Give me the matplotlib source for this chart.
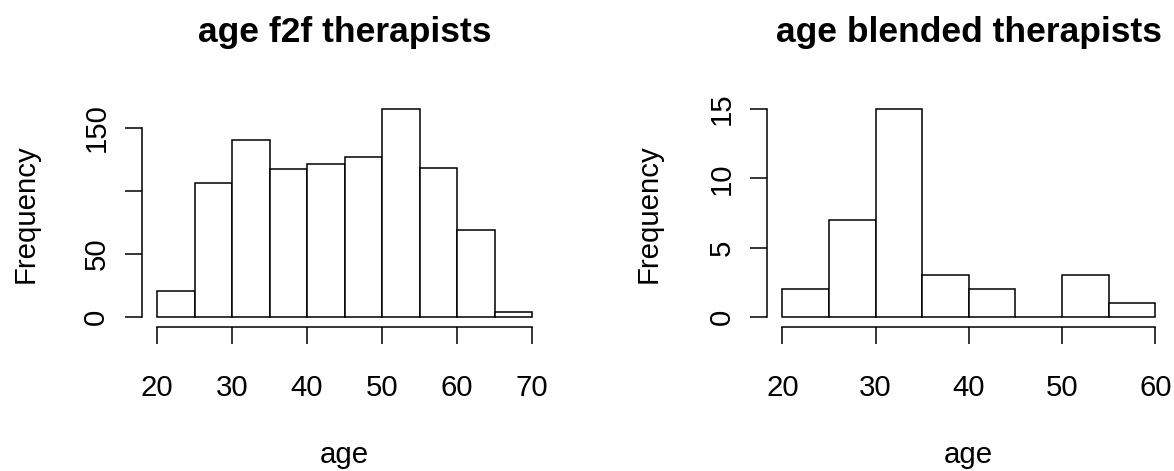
import numpy as np
import matplotlib
matplotlib.use('Agg')
import matplotlib.pyplot as plt

plt.rcParams['font.family'] = ['Liberation Sans', 'DejaVu Sans']

# counts per 5-year bin
f2f_bins = [20, 25, 30, 35, 40, 45, 50, 55, 60, 65, 70]
f2f_counts = [21, 106, 140, 117, 121, 127, 165, 118, 69, 4]
f2f_yticks = [0, 50, 100, 150]
f2f_ylabels = ['0', '50', '', '150']

blend_bins = [20, 25, 30, 35, 40, 45, 50, 55, 60]
blend_counts = [2, 7, 15, 3, 2, 0, 3, 1]
blend_yticks = [0, 5, 10, 15]
blend_ylabels = ['0', '5', '10', '15']

W, H = 1174, 471
fig = plt.figure(figsize=(W / 100, H / 100), dpi=100)

base = 21.2   # font size in pt
lw = 1.1


def r_hist(left_px, right_px, ylab_px, bins, counts, yticks, ylabels, title):
    top_px, bottom_px = 100.6, 326.7
    ax = fig.add_axes([left_px / W, 1 - bottom_px / H,
                       (right_px - left_px) / W, (bottom_px - top_px) / H])
    bins = np.array(bins)
    ax.bar(bins[:-1], counts, width=np.diff(bins), align='edge',
           facecolor='white', edgecolor='black', linewidth=lw)
    span = bins[-1] - bins[0]
    ax.set_xlim(bins[0] - 0.04 * span, bins[-1] + 0.04 * span)
    ymax = max(counts)
    ax.set_ylim(-0.046 * ymax, 1.04 * ymax)

    for s in ['top', 'right']:
        ax.spines[s].set_visible(False)
    ax.spines['left'].set_bounds(yticks[0], yticks[-1])
    ax.spines['left'].set_linewidth(lw)
    ax.spines['bottom'].set_bounds(bins[0], bins[-1])
    ax.spines['bottom'].set_linewidth(lw)

    xt = np.arange(bins[0], bins[-1] + 1, 10)
    ax.set_xticks(xt)
    ax.set_xticklabels([str(v) for v in xt])
    ax.set_yticks(yticks)
    ax.set_yticklabels(ylabels)
    ax.tick_params(axis='x', length=12, width=lw, pad=37.9, labelsize=base)
    ax.tick_params(axis='y', length=12, width=lw, pad=15.1, labelsize=base)
    for lab in ax.get_xticklabels():
        lab.set_va('baseline')
    for lab in ax.get_yticklabels():
        lab.set_rotation(90)
        lab.set_rotation_mode('anchor')
        lab.set_ha('center')
        lab.set_va('baseline')

    h = bottom_px - top_px
    wd = right_px - left_px
    ax.set_title(title, fontsize=base * 1.2, fontweight='bold',
                 y=1 + (top_px - 42) / h, pad=0, va='baseline')
    ax.set_xlabel('age', fontsize=base, va='baseline')
    ax.xaxis.set_label_coords(0.5, -(463 - bottom_px) / h)
    ax.set_ylabel('Frequency', fontsize=base, va='baseline')
    ax.yaxis.set_label_coords(-(left_px - ylab_px) / wd, 0.5)
    return ax


r_hist(142, 547, 34, f2f_bins, f2f_counts, f2f_yticks, f2f_ylabels,
       'age f2f therapists')
r_hist(767.4, 1170.2, 657, blend_bins, blend_counts, blend_yticks,
       blend_ylabels, 'age blended therapists')

fig.savefig('out.png', dpi=100)
